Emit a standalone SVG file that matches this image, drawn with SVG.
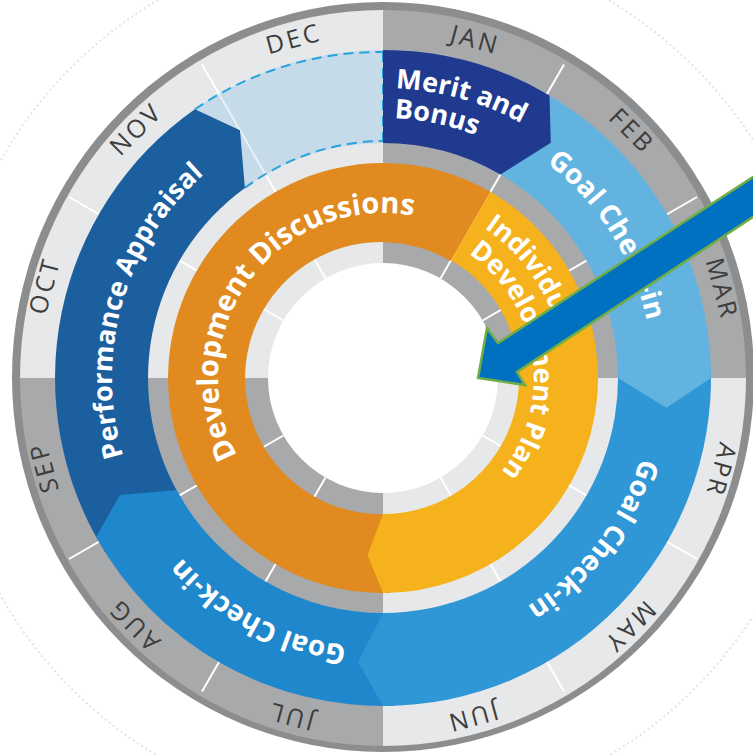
<svg xmlns="http://www.w3.org/2000/svg" width="753" height="755" viewBox="0 0 753 755">
<style>
.mon{font-family:"Open Sans","Liberation Sans",sans-serif;font-size:25px;letter-spacing:3px;fill:#3d3d3d;text-anchor:middle}
.lbl{font-family:"Open Sans","Liberation Sans",sans-serif;font-weight:700;fill:#ffffff}
.tick{stroke:#ffffff;stroke-width:2}
.dash{fill:none;stroke:#2aa3dc;stroke-width:2;stroke-dasharray:10 6}
</style>
<defs>
<path id="pPerf" d="M188.1,566.3 A271,271 0 0 1 317.4,115"/>
<path id="pTR" d="M418.2,110.3 A270,270 0 0 1 640.5,459.2"/>
<path id="pBR" d="M646.6,319.6 A270,270 0 0 1 394.8,647.7"/>
<path id="pBL" d="M484.1,628.3 A270,270 0 0 1 118.9,434.1"/>
<path id="pMerit" d="M395.6,88.3 A290,290 0 0 1 634.1,233"/>
<path id="pBonus" d="M394.3,118.3 A260,260 0 0 1 608.2,248"/>
<path id="pDD" d="M263.7,492 A165,165 0 0 1 456.1,230.1"/>
<path id="pInd" d="M484.2,228 A181,181 0 0 1 473.5,534.8"/>
<path id="pDevPlan" d="M468.5,253.6 A151,151 0 0 1 409.2,526.7"/>
</defs>
<rect width="753" height="755" fill="#ffffff"/>
<circle cx="383" cy="378" r="440" fill="none" stroke="#e4e4e4" stroke-width="2" stroke-dasharray="2 3"/>
<g id="wheel-base">
<ellipse cx="383" cy="377" rx="371" ry="375" fill="#8c8d8f"/>
<path d="M383,378 L383,10 A363,368 0 0 1 746,378 Z" fill="#a8a9ab"/>
<path d="M383,378 L746,378 A363,368 0 0 1 383,746 Z" fill="#e7e8e9"/>
<path d="M383,378 L383,746 A363,368 0 0 1 20,378 Z" fill="#a8a9ab"/>
<path d="M383,378 L20,378 A363,368 0 0 1 383,10 Z" fill="#e7e8e9"/>
<g class="tick">
<line x1="440.5" y1="278.4" x2="564" y2="64.5"/>
<line x1="482.6" y1="320.5" x2="697" y2="197"/>
<line x1="482.6" y1="435.5" x2="697" y2="559"/>
<line x1="440.5" y1="477.6" x2="564" y2="691.5"/>
<line x1="325.5" y1="477.6" x2="202" y2="691.5"/>
<line x1="283.4" y1="435.5" x2="69" y2="559"/>
<line x1="283.4" y1="320.5" x2="69" y2="197"/>
<line x1="325.5" y1="278.4" x2="202" y2="64.5"/>
</g>
</g>
<g id="months">
<text class="mon" x="384.5" y="36" transform="rotate(15 383 378)">JAN</text>
<text class="mon" x="384.5" y="36" transform="rotate(45 383 378)">FEB</text>
<text class="mon" x="384.5" y="36" transform="rotate(75 383 378)">MAR</text>
<text class="mon" x="384.5" y="36" transform="rotate(105 383 378)">APR</text>
<text class="mon" x="384.5" y="36" transform="rotate(135 383 378)">MAY</text>
<text class="mon" x="384.5" y="36" transform="rotate(165 383 378)">JUN</text>
<text class="mon" x="384.5" y="36" transform="rotate(195 383 378)">JUL</text>
<text class="mon" x="384.5" y="36" transform="rotate(225 383 378)">AUG</text>
<text class="mon" x="384.5" y="36" transform="rotate(255 383 378)">SEP</text>
<text class="mon" x="384.5" y="36" transform="rotate(285 383 378)">OCT</text>
<text class="mon" x="384.5" y="36" transform="rotate(315 383 378)">NOV</text>
<text class="mon" x="384.5" y="36" transform="rotate(345 383 378)">DEC</text>
</g>
<g id="december-slot">
<path d="M172.2,126.8 A328,328 0 0 1 383,50 L383,143 A235,235 0 0 0 231.9,198 Z" fill="#c5dbe9"/>
<line x1="265.5" y1="174.5" x2="219" y2="94" stroke="#ffffff" stroke-opacity="0.6" stroke-width="2"/>
<path class="dash" d="M194.9,109.3 A328,328 0 0 1 383,52"/>
<path class="dash" d="M244.9,187.9 A235,235 0 0 1 383,141"/>
<line class="dash" x1="383" y1="52" x2="383" y2="141"/>
</g>
<g id="performance-appraisal">
<path d="M104.9,551.8 A328,328 0 0 1 194.9,109.3 L240,130.3 L244.9,187.9 A235,235 0 0 0 183.7,502.5 Z" fill="#1b5f9f"/>
<text class="lbl" font-size="27"><textPath href="#pPerf" startOffset="50%" text-anchor="middle">Performance Appraisal</textPath></text>
</g>
<g id="goal-checkin-3">
<path d="M394.4,705.8 A328,328 0 0 1 96.1,537 L119.9,495.1 L176.5,490.1 A235,235 0 0 0 391.2,612.9 Z" fill="#1f87cb"/>
<text class="lbl" font-size="28"><textPath href="#pBL" startOffset="50%" text-anchor="middle">Goal Check-in</textPath></text>
</g>
<g id="goal-checkin-2">
<path d="M710.8,366.6 A328,328 0 0 1 383,706 L358.1,661.9 L383,613 A235,235 0 0 0 617.9,369.8 Z" fill="#2f97d6"/>
<text class="lbl" font-size="28"><textPath href="#pBR" startOffset="50%" text-anchor="middle">Goal Check-in</textPath></text>
</g>
<g id="goal-checkin-1">
<path d="M537,88.4 A328,328 0 0 1 711,378 L666.4,407.8 L618,378 A235,235 0 0 0 493.3,170.5 Z" fill="#63b3e1"/>
<text class="lbl" font-size="28"><textPath href="#pTR" startOffset="50%" text-anchor="middle">Goal Check-in</textPath></text>
</g>
<g id="merit-bonus">
<path d="M383,50 A328,328 0 0 1 549.5,95.4 L550.8,142.7 L500.5,174.5 A235,235 0 0 0 383,143 Z" fill="#203a8f"/>
<text class="lbl" font-size="27"><textPath href="#pMerit">Merit and</textPath></text>
<text class="lbl" font-size="27"><textPath href="#pBonus">Bonus</textPath></text>
</g>
<g id="development-discussions">
<path d="M390.5,592.9 A215,215 0 1 1 490.5,191.8 L450.5,261.1 A136,136 0 1 0 387.7,513.9 Z" fill="#e08a1f"/>
<text class="lbl" font-size="29"><textPath href="#pDD" startOffset="50%" text-anchor="middle">Development Discussions</textPath></text>
</g>
<g id="individual-development-plan">
<path d="M490.5,191.8 A215,215 0 0 1 383,593 L367.5,555.3 L383,514 A136,136 0 0 0 451,260.2 Z" fill="#f5b21c"/>
<text class="lbl" font-size="27"><textPath href="#pInd">Individual</textPath></text>
<text class="lbl" font-size="27"><textPath href="#pDevPlan">Development Plan</textPath></text>
</g>
<circle id="center" cx="383" cy="378" r="115" fill="#ffffff"/>
<g id="connectors">
<polygon points="760,172.4 498,343 487,328 478,378 525,385 517,372 760,212.4" fill="#0070c0" stroke="#71ad47" stroke-width="2.5"/>
</g>
</svg>
